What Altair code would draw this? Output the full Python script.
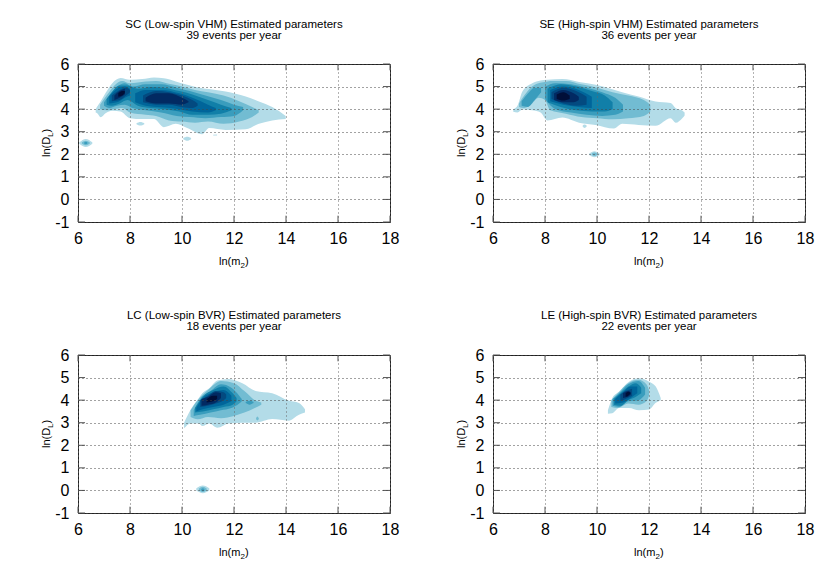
import altair as alt
import pandas as pd

X_TICKS = [6, 8, 10, 12, 14, 16, 18]
Y_TICKS = [-1, 0, 1, 2, 3, 4, 5, 6]
LEVEL_COLORS = ["#b3dce8", "#72bcd2", "#3a9dbd", "#117fa8", "#00659a", "#034a80", "#022a62", "#010f38"]
FONT = "Liberation Sans"

# each contour: (level, [(x, low, high), ...])
SC_BANDS = [
    (1, [(6.68,3.85,4.0),(6.74,3.82,4.12),(6.87,3.64,4.34),(7.06,3.82,4.71),(7.32,3.93,5.15),(7.64,3.9,5.38),(8.0,3.6,5.3),(8.47,3.56,5.33),(8.92,3.56,5.4),(9.3,3.2,5.37),(9.76,3.35,5.23),(10.2,3.16,5.08),(10.78,2.89,4.93),(11.04,3.16,4.89),(11.68,3.08,4.78),(12.45,3.11,4.56),(12.96,3.35,4.34),(13.47,3.5,4.09),(13.99,3.56,3.7)]),
    (1, [(8.25,3.33,3.37),(8.4,3.27,3.43),(8.55,3.33,3.37)]),
    (1, [(10.05,2.67,2.72),(10.2,2.6,2.78),(10.35,2.67,2.72)]),
    (1, [(11.2,2.83,2.86),(11.35,2.83,2.88)]),
    (1, [(6.05,2.47,2.53),(6.3,2.32,2.68),(6.55,2.47,2.53)]),
    (2, [(6.15,2.47,2.53),(6.3,2.4,2.6),(6.45,2.47,2.53)]),
    (3, [(6.24,2.47,2.53),(6.3,2.45,2.56),(6.36,2.47,2.53)]),
    (2, [(6.85,4.0,4.2),(7.1,3.95,4.6),(7.4,4.0,5.05),(7.7,4.05,5.25),(8.0,3.85,5.15),(8.6,3.75,5.22),(9.0,3.7,5.25),(9.5,3.5,5.12),(10.0,3.45,5.0),(10.5,3.4,4.85),(11.0,3.45,4.75),(11.6,3.35,4.6),(12.2,3.45,4.35),(12.7,3.65,4.1),(12.95,3.85,3.95)]),
    (3, [(7.0,4.15,4.3),(7.2,4.05,4.6),(7.5,4.15,5.0),(7.8,4.2,5.15),(8.1,4.05,5.0),(8.6,3.95,5.1),(9.2,3.85,5.1),(9.8,3.7,4.95),(10.3,3.65,4.8),(10.9,3.6,4.6),(11.5,3.65,4.4),(12.0,3.7,4.2),(12.35,3.95,4.1)]),
    (4, [(7.1,4.2,4.45),(7.3,4.15,4.75),(7.6,4.25,5.05),(7.9,4.4,5.05),(8.3,4.15,4.9),(8.8,4.05,4.98),(9.3,4.0,4.95),(9.9,3.9,4.8),(10.4,3.75,4.65),(11.0,3.75,4.4),(11.5,3.8,4.2),(11.9,3.95,4.05)]),
    (5, [(7.2,4.25,4.55),(7.5,4.3,4.9),(7.8,4.5,5.0),(8.0,4.6,4.9)]),
    (5, [(8.2,4.3,4.7),(8.6,4.15,4.85),(9.2,4.08,4.85),(9.9,4.0,4.7),(10.4,3.9,4.5),(11.0,3.85,4.2),(11.3,3.95,4.05)]),
    (6, [(7.3,4.35,4.6),(7.6,4.4,4.85),(7.85,4.6,4.95),(8.0,4.75,4.85)]),
    (6, [(8.5,4.3,4.6),(9.0,4.2,4.8),(9.5,4.2,4.75),(10.0,4.1,4.6),(10.4,4.05,4.4),(10.6,4.15,4.25)]),
    (7, [(7.4,4.4,4.6),(7.6,4.5,4.8),(7.8,4.65,4.9)]),
    (7, [(8.6,4.35,4.5),(9.0,4.25,4.7),(9.5,4.25,4.7),(10.0,4.2,4.5),(10.25,4.3,4.35)]),
    (8, [(7.55,4.55,4.7),(7.7,4.6,4.8),(7.8,4.7,4.8)]),
]
SE_BANDS = [
    (1, [(6.78,3.88,4.0),(6.94,3.85,4.15),(7.13,3.98,4.78),(7.51,3.95,5.15),(7.83,3.85,5.27),(8.09,3.5,5.3),(8.67,3.63,5.33),(9.31,3.4,5.2),(9.95,3.3,5.08),(10.65,3.14,4.86),(10.97,3.35,4.75),(11.6,3.3,4.56),(12.25,3.26,4.34),(12.83,3.6,4.27),(13.03,3.4,4.04),(13.28,3.6,3.94),(13.37,3.72,3.85)]),
    (1, [(9.45,3.22,3.27),(9.52,3.17,3.32),(9.6,3.22,3.27)]),
    (1, [(9.7,1.97,2.03),(9.9,1.87,2.13),(10.1,1.97,2.03)]),
    (2, [(9.8,1.97,2.03),(9.9,1.92,2.08),(10.0,1.97,2.03)]),
    (2, [(7.0,4.1,4.25),(7.2,4.05,4.6),(7.5,4.25,5.0),(7.75,4.5,5.15),(8.0,4.4,5.2),(8.2,3.95,5.25),(8.8,3.8,5.25),(9.4,3.65,5.1),(10.0,3.6,4.95),(10.6,3.55,4.75),(11.2,3.6,4.6),(11.8,3.7,4.4),(12.05,3.9,4.2)]),
    (3, [(7.1,4.15,4.35),(7.35,4.1,4.7),(7.6,4.4,4.95),(7.85,4.75,4.95)]),
    (3, [(8.0,4.45,5.0),(8.4,4.0,5.15),(9.0,3.85,5.1),(9.6,3.75,4.95),(10.2,3.7,4.75),(10.7,3.75,4.5),(11.0,3.9,4.2)]),
    (4, [(8.1,4.3,4.9),(8.6,4.1,5.1),(9.2,3.95,5.0),(9.8,3.9,4.8),(10.3,3.9,4.6),(10.6,4.0,4.3)]),
    (5, [(8.2,4.35,4.85),(8.7,4.2,5.0),(9.3,4.1,4.85),(9.8,4.05,4.55)]),
    (6, [(8.25,4.45,4.75),(8.7,4.25,4.95),(9.2,4.15,4.8),(9.6,4.2,4.55)]),
    (7, [(8.35,4.4,4.7),(8.7,4.3,4.85),(9.1,4.3,4.7),(9.3,4.4,4.55)]),
    (8, [(8.45,4.45,4.65),(8.7,4.38,4.75),(8.95,4.45,4.6)]),
]
LC_BANDS = [
    (1, [(10.08,2.75,3.0),(10.33,2.97,3.57),(10.65,2.97,4.09),(10.78,2.85,4.3),(11.05,2.97,4.53),(11.36,2.78,4.87),(11.8,2.97,4.94),(12.32,3.0,4.75),(12.83,3.0,4.41),(13.47,3.16,4.31),(14.1,3.09,3.98),(14.5,3.35,3.87),(14.73,3.45,3.6)]),
    (1, [(10.55,0.0,0.1),(10.8,-0.12,0.22),(11.05,0.0,0.1)]),
    (2, [(10.65,0.0,0.08),(10.8,-0.07,0.16),(10.95,0.0,0.08)]),
    (3, [(10.74,0.0,0.06),(10.8,-0.04,0.1),(10.86,0.0,0.06)]),
    (2, [(10.33,3.25,3.55),(10.6,3.15,4.0),(11.0,3.25,4.45),(11.5,3.2,4.85),(12.0,3.3,4.75),(12.4,3.45,4.4),(12.8,3.65,4.0),(13.05,3.8,3.9)]),
    (2, [(12.85,3.15,3.2),(12.9,3.1,3.27),(12.95,3.15,3.2)]),
    (3, [(10.45,3.3,3.55),(10.7,3.35,4.05),(11.1,3.45,4.4),(11.5,3.55,4.7),(11.9,3.65,4.55),(12.2,3.85,4.2),(12.3,3.95,4.05)]),
    (3, [(12.45,3.87,3.92),(12.6,3.8,3.97),(12.75,3.87,3.92)]),
    (4, [(10.5,3.45,3.65),(10.8,3.5,4.15),(11.2,3.6,4.45),(11.6,3.7,4.6),(11.95,3.8,4.3),(12.1,3.95,4.1)]),
    (5, [(10.55,3.5,3.65),(10.8,3.6,4.1),(11.2,3.7,4.35),(11.6,3.8,4.45),(11.9,3.95,4.2)]),
    (6, [(10.7,3.7,4.0),(11.0,3.75,4.2),(11.3,3.85,4.4),(11.6,4.0,4.35),(11.7,4.1,4.25)]),
    (7, [(10.75,3.75,4.05),(11.0,3.8,4.15),(11.3,3.9,4.35),(11.5,4.1,4.3)]),
    (8, [(10.95,3.9,4.05),(11.2,3.95,4.2),(11.35,4.05,4.2)]),
]
LE_BANDS = [
    (1, [(10.42,3.4,3.55),(10.59,3.42,4.09),(10.85,3.65,4.38),(11.23,3.65,4.82),(11.62,3.55,4.97),(12.0,3.58,4.82),(12.26,3.88,4.6),(12.45,4.0,4.1)]),
    (2, [(10.55,3.7,4.0),(10.8,3.65,4.3),(11.2,3.85,4.75),(11.6,3.8,4.9),(11.9,3.95,4.7),(12.0,4.2,4.45)]),
    (3, [(10.6,3.75,4.05),(10.85,3.7,4.3),(11.2,3.95,4.7),(11.6,4.0,4.85),(11.85,4.25,4.55)]),
    (4, [(10.65,3.8,4.05),(10.9,3.75,4.3),(11.2,4.0,4.6),(11.5,4.15,4.75),(11.7,4.3,4.55)]),
    (5, [(10.7,3.85,4.05),(11.0,3.9,4.35),(11.3,4.1,4.6),(11.55,4.3,4.6)]),
    (6, [(10.9,3.95,4.25),(11.1,4.05,4.4),(11.35,4.2,4.5)]),
    (7, [(11.0,4.1,4.3),(11.2,4.15,4.4),(11.3,4.25,4.35)]),
    (8, [(11.1,4.15,4.3),(11.2,4.2,4.37),(11.28,4.27,4.33)]),
]
PANELS = [
    (["SC (Low-spin VHM) Estimated parameters", "39 events per year"], SC_BANDS),
    (["SE (High-spin VHM) Estimated parameters", "36 events per year"], SE_BANDS),
    (["LC (Low-spin BVR) Estimated parameters", "18 events per year"], LC_BANDS),
    (["LE (High-spin BVR) Estimated parameters", "22 events per year"], LE_BANDS),
]

W, H = 312, 158
xs = alt.Scale(domain=[6, 18], nice=False, zero=False)
ys = alt.Scale(domain=[-1, 6], nice=False, zero=False)

axis_x = alt.Axis(values=X_TICKS, title=None, grid=True, ticks=False, domain=False, zindex=1, labelFontSize=16, labelFont=FONT,
                  labelColor="black", labelPadding=8, gridColor="#666666", gridDash=[1, 3], gridWidth=1, labelExpr="'' + datum.value", labelFlush=False, labelOverlap=False)
axis_y = alt.Axis(values=Y_TICKS, title=None, grid=True, ticks=False, domain=False, zindex=1, labelFontSize=16, labelFont=FONT,
                  labelColor="black", labelPadding=9, gridColor="#444444", gridDash=[1, 3], gridWidth=1, labelExpr="'' + datum.value", labelFlush=False, labelOverlap=False)


def text_piece(txt, x, y, size, angle=0):
    return alt.Chart(pd.DataFrame({"t": [txt]})).mark_text(
        font=FONT, fontSize=size, align="left", baseline="alphabetic", angle=angle, color="black"
    ).encode(text="t:N", x=alt.value(x), y=alt.value(y))


def panel(title, bands):
    layers = []
    for level in range(1, 9):
        for lv, rows in bands:
            if lv != level:
                continue
            df = pd.DataFrame(rows, columns=["x", "lo", "hi"])
            layers.append(alt.Chart(df).mark_area(color=LEVEL_COLORS[level - 1], interpolate="monotone", clip=True).encode(
                x=alt.X("x:Q", scale=xs, axis=axis_x), y=alt.Y("lo:Q", scale=ys, axis=axis_y), y2="hi:Q"))
    tx = pd.DataFrame({"x": X_TICKS})
    ty = pd.DataFrame({"y": Y_TICKS})
    for a, b in [(-1, -0.72), (6, 5.72)]:
        layers.append(alt.Chart(tx).transform_calculate(a=str(a), b=str(b)).mark_rule(color="#555555", strokeWidth=1).encode(
            x=alt.X("x:Q", scale=xs, axis=axis_x), y=alt.Y("a:Q", scale=ys, axis=axis_y), y2="b:Q"))
    for a, b in [(6, 6.27), (18, 17.73)]:
        layers.append(alt.Chart(ty).transform_calculate(a=str(a), b=str(b)).mark_rule(color="#555555", strokeWidth=1).encode(
            y=alt.Y("y:Q", scale=ys, axis=axis_y), x=alt.X("a:Q", scale=xs, axis=axis_x), x2="b:Q"))
    layers += [
        text_piece("ln(m", 141, 201, 11), text_piece("2", 162.4, 204, 8), text_piece(")", 166.9, 201, 11),
        text_piece("ln(D", -28, 93, 11, 270), text_piece("L", -25, 73, 8, 270), text_piece(")", -28, 68.5, 11, 270),
    ]
    return alt.layer(*layers).properties(
        width=W, height=H,
        title=alt.TitleParams(text=title, font=FONT, fontSize=11.5, fontWeight="normal", anchor="middle", color="black", lineHeight=11.5, offset=14.5),
    )


charts = [panel(t, b) for t, b in PANELS]
chart = alt.concat(*charts, columns=2, spacing={"row": 133, "column": 103}, bounds="flush").properties(
    padding={"left": 32, "top": 10, "right": 5, "bottom": 5}, background="white"
).configure_view(stroke="#222222", strokeWidth=1)

chart.save("out.html", embed_options={"renderer": "svg", "actions": False})
